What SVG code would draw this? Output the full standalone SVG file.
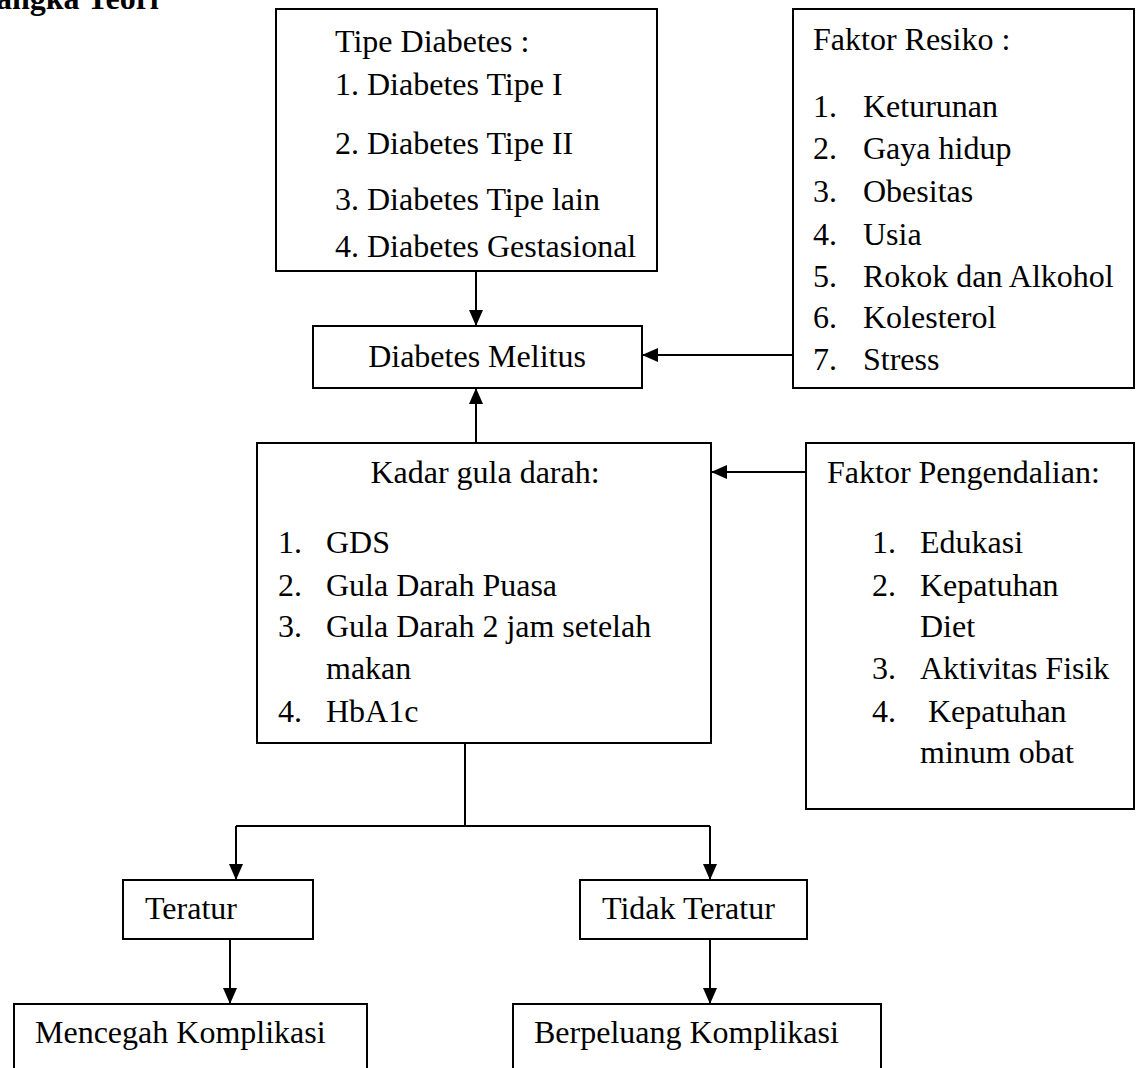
<svg xmlns="http://www.w3.org/2000/svg" width="1140" height="1068" viewBox="0 0 1140 1068">
<style>
text{font-family:"Liberation Serif","Times New Roman",serif;font-size:32px;fill:#000}
.title{font-weight:bold}
.box{fill:#fff;stroke:#000;stroke-width:2}
.c{fill:none;stroke:#000;stroke-width:2}
.mid{text-anchor:middle}
</style>
<defs>
<marker id="ah" markerWidth="16" markerHeight="14" refX="16" refY="7" orient="auto" markerUnits="userSpaceOnUse">
<path d="M0,0 L16,7 L0,14 Z" fill="#000"/>
</marker>
</defs>
<rect width="1140" height="1068" fill="#fff"/>
<text class="title" x="-4" y="9">angka Teori</text>

<g id="tipe">
<rect class="box" x="276" y="9" width="381" height="262"/>
<text x="335" y="52">Tipe Diabetes :</text>
<text x="335" y="95">1. Diabetes Tipe I</text>
<text x="335" y="154">2. Diabetes Tipe II</text>
<text x="335" y="210">3. Diabetes Tipe lain</text>
<text x="335" y="257">4. Diabetes Gestasional</text>
</g>

<g id="resiko">
<rect class="box" x="793" y="9" width="341" height="379"/>
<text x="813" y="50">Faktor Resiko :</text>
<text x="813" y="117">1.</text><text x="863" y="117">Keturunan</text>
<text x="813" y="159">2.</text><text x="863" y="159">Gaya hidup</text>
<text x="813" y="202">3.</text><text x="863" y="202">Obesitas</text>
<text x="813" y="245">4.</text><text x="863" y="245">Usia</text>
<text x="813" y="287">5.</text><text x="863" y="287">Rokok dan Alkohol</text>
<text x="813" y="328">6.</text><text x="863" y="328">Kolesterol</text>
<text x="813" y="370">7.</text><text x="863" y="370">Stress</text>
</g>

<g id="dm">
<rect class="box" x="313" y="326" width="329" height="62"/>
<text class="mid" x="477" y="367">Diabetes Melitus</text>
</g>

<g id="kadar">
<rect class="box" x="257" y="443" width="454" height="300"/>
<text class="mid" x="485" y="483">Kadar gula darah:</text>
<text x="278" y="553">1.</text><text x="326" y="553">GDS</text>
<text x="278" y="596">2.</text><text x="326" y="596">Gula Darah Puasa</text>
<text x="278" y="637">3.</text><text x="326" y="637">Gula Darah 2 jam setelah</text>
<text x="326" y="679">makan</text>
<text x="278" y="722">4.</text><text x="326" y="722">HbA1c</text>
</g>

<g id="pengendalian">
<rect class="box" x="806" y="443" width="328" height="366"/>
<text x="827" y="483">Faktor Pengendalian:</text>
<text x="872" y="553">1.</text><text x="920" y="553">Edukasi</text>
<text x="872" y="596">2.</text><text x="920" y="596">Kepatuhan</text>
<text x="920" y="637">Diet</text>
<text x="872" y="679">3.</text><text x="920" y="679">Aktivitas Fisik</text>
<text x="872" y="722">4.</text><text x="928" y="722">Kepatuhan</text>
<text x="920" y="763">minum obat</text>
</g>

<g id="teratur">
<rect class="box" x="123" y="880" width="190" height="59"/>
<text x="145" y="919">Teratur</text>
</g>

<g id="tidak">
<rect class="box" x="580" y="880" width="227" height="59"/>
<text x="602" y="919">Tidak Teratur</text>
</g>

<g id="mencegah">
<rect class="box" x="14" y="1004" width="353" height="90"/>
<text x="35" y="1043">Mencegah Komplikasi</text>
</g>

<g id="berpeluang">
<rect class="box" x="513" y="1004" width="368" height="90"/>
<text x="534" y="1043">Berpeluang Komplikasi</text>
</g>

<g id="connectors">
<line class="c" x1="476" y1="271" x2="476" y2="326" marker-end="url(#ah)"/>
<line class="c" x1="793" y1="355" x2="642" y2="355" marker-end="url(#ah)"/>
<line class="c" x1="476" y1="443" x2="476" y2="388" marker-end="url(#ah)"/>
<line class="c" x1="806" y1="472" x2="711" y2="472" marker-end="url(#ah)"/>
<polyline class="c" points="465,743 465,826"/>
<polyline class="c" points="236,826 710,826"/>
<line class="c" x1="236" y1="826" x2="236" y2="880" marker-end="url(#ah)"/>
<line class="c" x1="710" y1="826" x2="710" y2="880" marker-end="url(#ah)"/>
<line class="c" x1="230" y1="939" x2="230" y2="1004" marker-end="url(#ah)"/>
<line class="c" x1="710" y1="939" x2="710" y2="1004" marker-end="url(#ah)"/>
</g>
</svg>
